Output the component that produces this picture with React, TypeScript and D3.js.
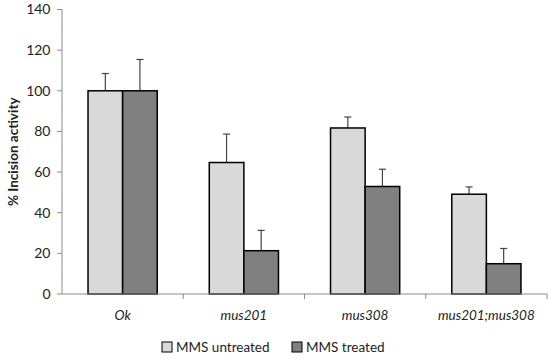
import * as d3 from "d3";

const categories = ["Ok", "mus201", "mus308", "mus201;mus308"];
const seriesNames = ["MMS untreated", "MMS treated"];
const untreated = [100, 64.7, 81.7, 49.1];
const treated = [100, 21.3, 52.9, 14.9];
const untreatedErr = [8.5, 14, 5.4, 3.6];
const treatedErr = [15.4, 10, 8.5, 7.5];
const yTicks = [0, 20, 40, 60, 80, 100, 120, 140];

const colors = ["#d9d9d9", "#808080"];

export default function App() {
  const width = 550;
  const height = 358;
  const marginLeft = 62;
  const marginRight = 3;
  const marginTop = 9.5;
  const marginBottom = 64;

  const x = d3
    .scaleBand()
    .domain(categories)
    .range([marginLeft, width - marginRight])
    .paddingInner(0)
    .paddingOuter(0);

  const y = d3.scaleLinear([0, 140], [height - marginBottom, marginTop]);

  const barW = 34.6;
  const series = [
    { values: untreated, err: untreatedErr },
    { values: treated, err: treatedErr }
  ];

  const axisColor = "#8c8c8c";
  const font = "Lato, 'Open Sans', sans-serif";

  return (
    <div style={{ position: "absolute", left: 0, top: 0 }}>
      <svg width={width} height={height} style={{ display: "block", background: "#fff" }}>
        {/* y axis */}
        <line x1={marginLeft} x2={marginLeft} y1={y(140)} y2={y(0)} stroke={axisColor} />
        {yTicks.map((t) => (
          <g key={t}>
            <line x1={marginLeft - 5} x2={marginLeft} y1={y(t)} y2={y(t)} stroke={axisColor} />
            <text
              x={marginLeft - 11.5}
              y={y(t)}
              dy="0.35em"
              textAnchor="end"
              fontSize={14}
              fontFamily={font}
              fill="#222"
            >
              {t}
            </text>
          </g>
        ))}
        <text
          transform={`translate(18,${(y(0) + y(140)) / 2}) rotate(-90)`}
          textAnchor="middle"
          fontSize={13.5}
          fontWeight="bold"
          fontFamily={font}
          fill="#222"
        >
          % Incision activity
        </text>

        {/* bars */}
        {series.map((s, si) =>
          categories.map((c, i) => {
            const cx = x(c)! + x.bandwidth() / 2;
            const bx = cx - barW + si * barW;
            const v = s.values[i];
            const top = y(v + s.err[i]);
            const mid = bx + barW / 2;
            return (
              <g key={`${si}-${c}`}>
                <line x1={mid} x2={mid} y1={y(v)} y2={top} stroke="#444" strokeWidth={1.2} />
                <line x1={mid - 3.5} x2={mid + 3.5} y1={top} y2={top} stroke="#444" strokeWidth={1.2} />
                <rect
                  x={bx}
                  y={y(v)}
                  width={barW}
                  height={y(0) - y(v)}
                  fill={colors[si]}
                  stroke="#000"
                  strokeWidth={1.5}
                />
              </g>
            );
          })
        )}

        {/* x axis */}
        <line x1={marginLeft} x2={width - marginRight} y1={y(0)} y2={y(0)} stroke={axisColor} />
        {categories.map((c) => (
          <line
            key={c}
            x1={x(c)! + x.bandwidth()}
            x2={x(c)! + x.bandwidth()}
            y1={y(0)}
            y2={y(0) + 5}
            stroke={axisColor}
          />
        ))}
        {categories.map((c) => (
          <text
            key={c}
            x={x(c)! + x.bandwidth() / 2}
            y={y(0) + 26}
            textAnchor="middle"
            fontSize={13.5}
            fontStyle="italic"
            fontFamily={font}
            fill="#222"
          >
            {c}
          </text>
        ))}

        {/* legend */}
        {seriesNames.map((n, i) => {
          const lx = [162, 292][i];
          return (
            <g key={n} transform={`translate(${lx},342)`}>
              <rect x={0} y={0} width={10} height={10} fill={colors[i]} stroke="#000" strokeWidth={1} />
              <text x={14} y={5} dy="0.36em" fontSize={13.5} fontFamily={font} fill="#222">
                {n}
              </text>
            </g>
          );
        })}
      </svg>
    </div>
  );
}
